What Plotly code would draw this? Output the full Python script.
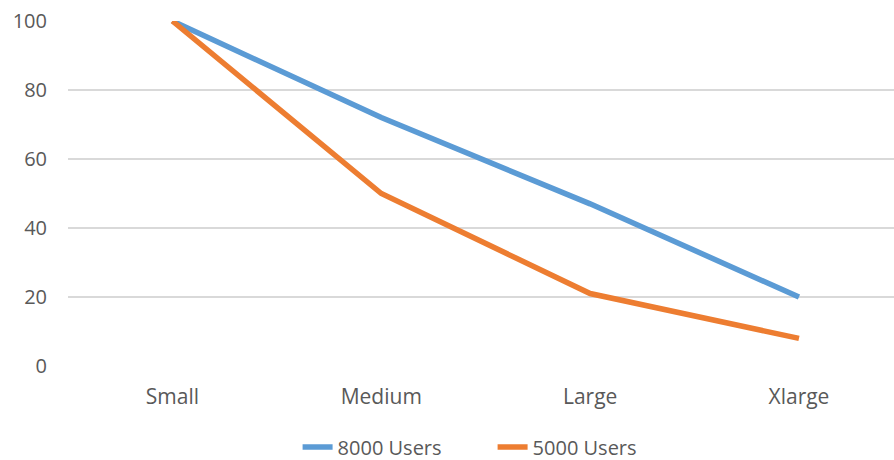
import plotly.graph_objects as go

categories = ["Small", "Medium", "Large", "Xlarge"]
users_8000 = [100, 72, 47, 20]
users_5000 = [100, 50, 21, 8]

FONT = "Open Sans, sans-serif"
TEXT = "#595959"

fig = go.Figure()
fig.add_trace(go.Scatter(
    x=categories, y=users_8000, name="8000 Users", mode="lines",
    line=dict(color="#5B9BD5", width=5.5),
))
fig.add_trace(go.Scatter(
    x=categories, y=users_5000, name="5000 Users", mode="lines",
    line=dict(color="#ED7D31", width=5.5),
))

fig.update_layout(
    width=894, height=460,
    margin=dict(l=68, r=0, t=21, b=94),
    paper_bgcolor="white", plot_bgcolor="white",
    font=dict(family=FONT, size=20, color=TEXT),
    showlegend=True,
    legend=dict(
        orientation="h", xref="container", yref="container",
        x=0.551, xanchor="center", y=0.028, yanchor="middle",
        font=dict(family=FONT, size=20, color=TEXT),
        itemwidth=30, entrywidth=150,
    ),
    xaxis=dict(
        type="category", range=[-0.5, 3.455],
        showgrid=False, zeroline=False, showline=False,
        ticks="", ticklabelstandoff=16,
        tickfont=dict(family=FONT, size=21, color=TEXT),
    ),
    yaxis=dict(
        range=[0, 100], tickvals=[0, 20, 40, 60, 80, 100],
        showgrid=True, gridcolor="#D9D9D9", gridwidth=1.5,
        zeroline=False, showline=False,
        ticks="", ticklabelstandoff=20,
        tickfont=dict(family=FONT, size=20, color=TEXT),
    ),
)

fig.write_html("out.html")
